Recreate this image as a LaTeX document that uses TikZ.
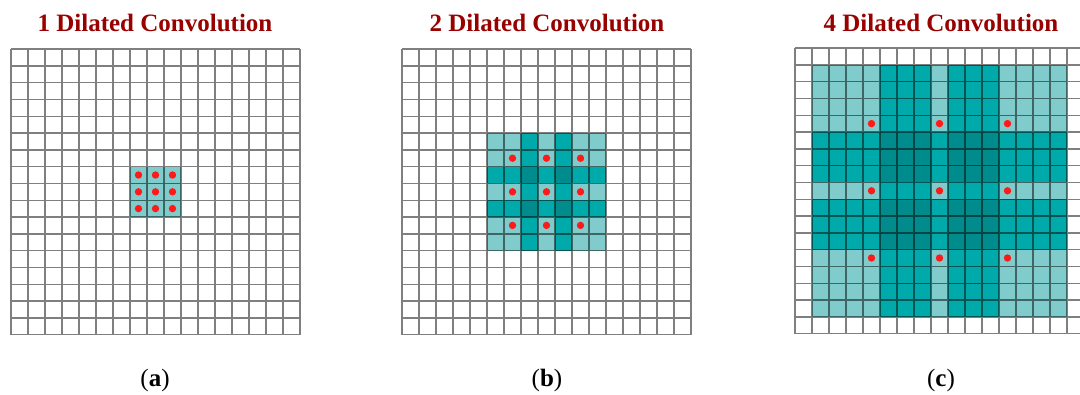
\documentclass[tikz,border=0pt]{standalone}
\usepackage{xcolor}
\usepackage{fontspec}
\setmainfont{Liberation Serif}
\usepackage{tikz}

\definecolor{titlered}{HTML}{990000}
\definecolor{tealA}{HTML}{80CCCC}
\definecolor{tealB}{HTML}{00AAAA}
\definecolor{tealC}{HTML}{008C8C}
\definecolor{dotred}{HTML}{FF1A1A}

\begin{document}
\begin{tikzpicture}[x=1pt, y=-1pt,
    title/.style={font=\fontsize{25}{30}\selectfont\bfseries, text=titlered, anchor=base, inner sep=0pt},
    panel/.style={font=\fontsize{25}{30}\selectfont, anchor=base, inner sep=0pt},
    gridline/.style={draw=black, draw opacity=0.5, line width=1.4pt},
    dot/.style={fill=dotred}]
    \useasboundingbox (0,0) rectangle (1080,394);
    \clip (0,0) rectangle (1080,394);
    \foreach \px/\py/\dil/\tx/\lbl in {11/49/1/155/a, 402/49/2/547/b, 795/48/4/941/c} {
        % Title and panel label
        \node[title] (title-\lbl) at (\tx,31) {\dil\ Dilated Convolution};
        \node[panel] (label-\lbl) at (\tx,386) {(\textbf{\lbl})};
        \begin{scope}[shift={(\px,\py)}, x=17pt, y=-16.8pt]
            % Receptive field
            \fill[tealA] ({9-2*\dil},{9-2*\dil}) rectangle ({8+2*\dil},{8+2*\dil});
            \foreach \lo/\hi in {{9-\dil}/8, 9/{8+\dil}} {
                \fill[tealB] ({9-2*\dil},\lo) rectangle ({8+2*\dil},\hi);
                \fill[tealB] (\lo,{9-2*\dil}) rectangle (\hi,{8+2*\dil});
            }
            \foreach \lo/\hi in {{9-\dil}/8, 9/{8+\dil}}
                \foreach \la/\ha in {{9-\dil}/8, 9/{8+\dil}}
                    \fill[tealC] (\lo,\la) rectangle (\hi,\ha);
            % Grid
            \draw[gridline] \foreach \k in {0,...,17} {(\k,0) -- (\k,17) (0,\k) -- (17,\k)};
            % Kernel points
            \foreach \i in {-1,0,1}
                \foreach \j in {-1,0,1}
                    \fill[dot] ({8.5+\i*\dil},{8.5+\j*\dil}) circle (3.7pt);
        \end{scope}
    }
\end{tikzpicture}
\end{document}
